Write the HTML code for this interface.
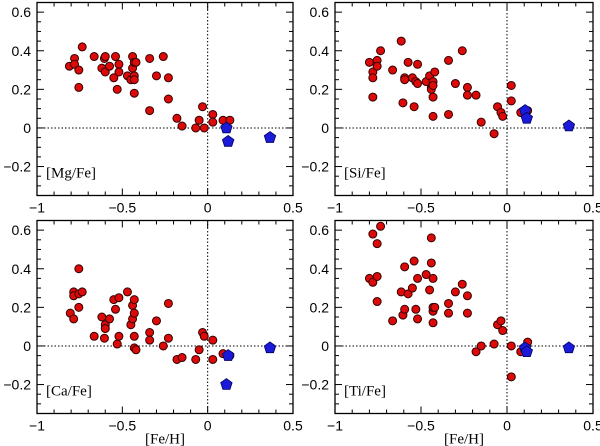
<!DOCTYPE html>
<html><head><meta charset="utf-8"><style>
html,body{margin:0;padding:0;background:#fff;}
svg{display:block;font-family:"Liberation Sans",sans-serif;}
</style></head><body>
<svg id="chart" width="600" height="446" viewBox="0 0 600 446" xmlns="http://www.w3.org/2000/svg"></svg>
<script>
const mgFe=[-0.81,-0.78,-0.78,-0.755,-0.755,-0.735,-0.665,-0.62,-0.605,-0.60,-0.60,-0.575,-0.55,-0.54,-0.53,-0.52,-0.52,-0.47,-0.45,-0.44,-0.44,-0.43,-0.43,-0.43,-0.43,-0.42,-0.34,-0.34,-0.30,-0.26,-0.23,-0.23,-0.18,-0.15,-0.07,-0.05,-0.03,-0.02,0.03,0.03,0.09,0.13];
const mgVal=[0.32,0.36,0.33,0.30,0.21,0.42,0.37,0.31,0.36,0.37,0.29,0.32,0.26,0.37,0.20,0.33,0.29,0.27,0.25,0.37,0.31,0.34,0.27,0.25,0.18,0.34,0.36,0.09,0.27,0.37,0.26,0.15,0.05,0.01,0.00,0.04,0.11,0.00,0.07,0.03,0.04,0.04];
const mgStarFe=[0.11,0.12,0.365];
const mgStarVal=[0.00,-0.07,-0.05];
const siFe=[-0.80,-0.78,-0.78,-0.78,-0.755,-0.755,-0.735,-0.665,-0.615,-0.605,-0.595,-0.595,-0.575,-0.55,-0.54,-0.53,-0.52,-0.52,-0.47,-0.45,-0.44,-0.44,-0.43,-0.43,-0.43,-0.43,-0.42,-0.34,-0.34,-0.30,-0.26,-0.23,-0.23,-0.18,-0.15,-0.075,-0.055,-0.035,-0.025,0.025,0.025,0.08,0.12];
const siVal=[0.34,0.29,0.26,0.16,0.35,0.32,0.40,0.30,0.45,0.13,0.26,0.25,0.34,0.26,0.11,0.24,0.33,0.23,0.24,0.27,0.21,0.20,0.24,0.22,0.16,0.06,0.29,0.35,0.07,0.23,0.40,0.21,0.17,0.17,0.03,-0.03,0.11,0.08,0.06,0.22,0.14,0.08,0.09];
const siStarFe=[0.105,0.115,0.36];
const siStarVal=[0.09,0.05,0.01];
const caFe=[-0.805,-0.785,-0.785,-0.785,-0.755,-0.755,-0.755,-0.735,-0.665,-0.62,-0.605,-0.60,-0.60,-0.575,-0.55,-0.54,-0.53,-0.52,-0.52,-0.47,-0.45,-0.44,-0.44,-0.43,-0.43,-0.43,-0.43,-0.42,-0.34,-0.34,-0.30,-0.26,-0.23,-0.23,-0.18,-0.15,-0.07,-0.05,-0.03,-0.02,0.03,0.03,0.09,0.13];
const caVal=[0.17,0.28,0.26,0.14,0.40,0.27,0.20,0.28,0.05,0.15,0.04,0.11,0.09,0.14,0.24,0.19,0.01,0.25,0.05,0.28,0.11,0.21,0.14,0.24,0.17,0.05,-0.01,-0.02,0.07,0.03,0.13,0.00,0.22,0.04,-0.07,-0.06,-0.07,-0.02,0.07,0.05,0.03,-0.07,-0.04,-0.05];
const caStarFe=[0.12,0.11,0.365];
const caStarVal=[-0.05,-0.20,-0.01];
const tiFe=[-0.80,-0.78,-0.78,-0.755,-0.755,-0.755,-0.735,-0.665,-0.615,-0.605,-0.595,-0.595,-0.575,-0.55,-0.54,-0.53,-0.52,-0.52,-0.47,-0.45,-0.44,-0.44,-0.43,-0.43,-0.43,-0.43,-0.42,-0.34,-0.34,-0.30,-0.26,-0.23,-0.23,-0.18,-0.15,-0.075,-0.055,-0.035,-0.025,0.025,0.025,0.08,0.12];
const tiVal=[0.35,0.58,0.33,0.53,0.36,0.23,0.62,0.13,0.28,0.16,0.41,0.19,0.27,0.30,0.44,0.19,0.35,0.14,0.37,0.29,0.56,0.43,0.35,0.18,0.12,0.20,0.20,0.22,0.17,0.28,0.32,0.26,0.17,-0.03,0.00,0.01,0.11,0.13,0.08,0.00,-0.16,-0.03,0.02];
const tiStarFe=[0.105,0.115,0.36];
const tiStarVal=[-0.01,-0.03,-0.01];
const xTicks=[-1,-0.5,0,0.5];
const xTickLabels=["\u22121","\u22120.5","0","0.5"];
const yTicks=[-0.2,0,0.2,0.4,0.6];
const yTickLabels=["\u22120.2","0","0.2","0.4","0.6"];

const NS="http://www.w3.org/2000/svg";
const svg=document.getElementById('chart');
function mk(tag,attrs,parent){const e=document.createElementNS(NS,tag);for(const k in attrs)e.setAttribute(k,attrs[k]);(parent||svg).appendChild(e);return e;}

const panels=[
 {name:'mg',label:'[Mg/Fe]',fe:mgFe,val:mgVal,sfe:mgStarFe,sval:mgStarVal,L:37,R:293,T:2.5,B:195.5,bottom:false},
 {name:'si',label:'[Si/Fe]',fe:siFe,val:siVal,sfe:siStarFe,sval:siStarVal,L:335,R:593,T:2.5,B:195.5,bottom:false},
 {name:'ca',label:'[Ca/Fe]',fe:caFe,val:caVal,sfe:caStarFe,sval:caStarVal,L:37,R:293,T:220.5,B:413.5,bottom:true},
 {name:'ti',label:'[Ti/Fe]',fe:tiFe,val:tiVal,sfe:tiStarFe,sval:tiStarVal,L:335,R:593,T:220.5,B:413.5,bottom:true}
];
panels.forEach(p=>{
 const g=mk('g',{});
 
 
 const xs=v=>p.L+(v+1)/1.5*(p.R-p.L);
 const ys=v=>p.B-(v+0.35)/1.0*(p.B-p.T);
 for(let i=0;i<=15;i++){const v=-1+i*0.1;const x=xs(v);const len=(i%5===0)?7:4;
  mk('line',{x1:x,y1:p.B,x2:x,y2:p.B-len,stroke:'#000','stroke-width':1},g);
  mk('line',{x1:x,y1:p.T,x2:x,y2:p.T+len,stroke:'#000','stroke-width':1},g);}
 for(let i=0;i<=20;i++){const v=-0.35+i*0.05;if(v>0.651)break;const y=ys(v);const major=Math.abs(Math.round(v*10)/10-v)<1e-6&&Math.round(v*10)%2===0;const len=major?7:4;
  mk('line',{x1:p.L,y1:y,x2:p.L+len,y2:y,stroke:'#000','stroke-width':1},g);
  mk('line',{x1:p.R,y1:y,x2:p.R-len,y2:y,stroke:'#000','stroke-width':1},g);}
 const zx=mk('line',{x1:xs(0),y1:p.T,x2:xs(0),y2:p.B,stroke:'#000','stroke-width':1,'stroke-dasharray':'1.5,2'},g);
 
 
 const zy=mk('line',{x1:p.L,y1:ys(0),x2:p.R,y2:ys(0),stroke:'#000','stroke-width':1,'stroke-dasharray':'1.5,2'},g);
 
 
 const fr=mk('rect',{x:p.L,y:p.T,width:p.R-p.L,height:p.B-p.T,fill:'none',stroke:'#000','stroke-width':1.3},g);
 
 
 yTicks.forEach((v,i)=>{const t=mk('text',{x:p.L-6,y:ys(v)+5,'text-anchor':'end','font-size':14},g);t.textContent=yTickLabels[i];
  
  });
 xTicks.forEach((v,i)=>{const t=mk('text',{x:xs(v),y:p.B+17,'text-anchor':'middle','font-size':14},g);t.textContent=xTickLabels[i];
  
  });
 if(p.bottom){const t=mk('text',{x:xs(-0.25),y:p.B+30,'text-anchor':'middle','font-size':15,'font-family':'Liberation Serif, serif'},g);t.textContent='[Fe/H]';
  
  }
 const lab=mk('text',{x:p.L+9,y:p.B-18,'font-size':15,'font-family':'Liberation Serif, serif'},g);lab.textContent=p.label;
 
 
 p.fe.forEach((f,i)=>{const c=mk('circle',{cx:xs(f),cy:ys(p.val[i]),r:4,fill:'#dd0a0a',stroke:'#300',"stroke-width":1},g);
  
  });
 p.sfe.forEach((f,i)=>{const cx=xs(f),cy=ys(p.sval[i]);let pts=[];for(let k=0;k<5;k++){const a=-Math.PI/2+k*2*Math.PI/5;pts.push((cx+6*Math.cos(a)).toFixed(1)+','+(cy+6*Math.sin(a)).toFixed(1));}
  const s=mk('polygon',{points:pts.join(' '),fill:'#1a1ad8',stroke:'#000060','stroke-width':0.8},g);
  
  });
});
</script>
</body></html>
